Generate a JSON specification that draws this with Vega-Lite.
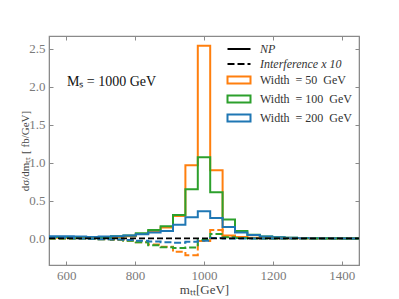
{
  "$schema": "https://vega.github.io/schema/vega-lite/v6.json",
  "width": 310,
  "height": 229,
  "autosize": "none",
  "padding": {"left": 49, "top": 36, "right": 40, "bottom": 34},
  "config": {
    "view": {"stroke": "#8a8a8a", "strokeWidth": 1.2},
    "font": "Liberation Serif",
    "axis": {
      "labelFont": "Liberation Serif",
      "titleFont": "Liberation Serif",
      "labelFontSize": 13,
      "labelColor": "#7a7a7a",
      "titleColor": "#444",
      "titleFontWeight": "normal",
      "titleFontSize": 13,
      "tickColor": "#8a8a8a",
      "domainColor": "#8a8a8a",
      "grid": false,
      "tickSize": -4,
      "labelPadding": 8
    },
    "legend": {
      "labelFont": "Liberation Serif",
      "labelFontSize": 12,
      "labelColor": "#333"
    }
  },
  "resolve": {"axis": {"x": "independent", "y": "independent"}},
  "layer": [
    {
      "data": {"values": [
        {"m":550,"w":"Width\u00a0\u00a0=\u00a050\u00a0\u00a0GeV","k":"NP","v":0.01},
        {"m":586,"w":"Width\u00a0\u00a0=\u00a050\u00a0\u00a0GeV","k":"NP","v":0.01},
        {"m":622,"w":"Width\u00a0\u00a0=\u00a050\u00a0\u00a0GeV","k":"NP","v":0.01},
        {"m":658,"w":"Width\u00a0\u00a0=\u00a050\u00a0\u00a0GeV","k":"NP","v":0.01},
        {"m":694,"w":"Width\u00a0\u00a0=\u00a050\u00a0\u00a0GeV","k":"NP","v":0.015},
        {"m":730,"w":"Width\u00a0\u00a0=\u00a050\u00a0\u00a0GeV","k":"NP","v":0.02},
        {"m":766,"w":"Width\u00a0\u00a0=\u00a050\u00a0\u00a0GeV","k":"NP","v":0.03},
        {"m":802,"w":"Width\u00a0\u00a0=\u00a050\u00a0\u00a0GeV","k":"NP","v":0.06},
        {"m":838,"w":"Width\u00a0\u00a0=\u00a050\u00a0\u00a0GeV","k":"NP","v":0.1},
        {"m":874,"w":"Width\u00a0\u00a0=\u00a050\u00a0\u00a0GeV","k":"NP","v":0.145},
        {"m":910,"w":"Width\u00a0\u00a0=\u00a050\u00a0\u00a0GeV","k":"NP","v":0.295},
        {"m":946,"w":"Width\u00a0\u00a0=\u00a050\u00a0\u00a0GeV","k":"NP","v":0.965},
        {"m":982,"w":"Width\u00a0\u00a0=\u00a050\u00a0\u00a0GeV","k":"NP","v":2.54},
        {"m":1018,"w":"Width\u00a0\u00a0=\u00a050\u00a0\u00a0GeV","k":"NP","v":0.9},
        {"m":1054,"w":"Width\u00a0\u00a0=\u00a050\u00a0\u00a0GeV","k":"NP","v":0.04},
        {"m":1090,"w":"Width\u00a0\u00a0=\u00a050\u00a0\u00a0GeV","k":"NP","v":0.02},
        {"m":1126,"w":"Width\u00a0\u00a0=\u00a050\u00a0\u00a0GeV","k":"NP","v":0.01},
        {"m":1162,"w":"Width\u00a0\u00a0=\u00a050\u00a0\u00a0GeV","k":"NP","v":0.005},
        {"m":1198,"w":"Width\u00a0\u00a0=\u00a050\u00a0\u00a0GeV","k":"NP","v":0.003},
        {"m":1234,"w":"Width\u00a0\u00a0=\u00a050\u00a0\u00a0GeV","k":"NP","v":0.002},
        {"m":1270,"w":"Width\u00a0\u00a0=\u00a050\u00a0\u00a0GeV","k":"NP","v":0.002},
        {"m":1306,"w":"Width\u00a0\u00a0=\u00a050\u00a0\u00a0GeV","k":"NP","v":0.001},
        {"m":1342,"w":"Width\u00a0\u00a0=\u00a050\u00a0\u00a0GeV","k":"NP","v":0.001},
        {"m":1378,"w":"Width\u00a0\u00a0=\u00a050\u00a0\u00a0GeV","k":"NP","v":0.001},
        {"m":1414,"w":"Width\u00a0\u00a0=\u00a050\u00a0\u00a0GeV","k":"NP","v":0.001},
        {"m":1450,"w":"Width\u00a0\u00a0=\u00a050\u00a0\u00a0GeV","k":"NP","v":0.001},

        {"m":550,"w":"Width\u00a0\u00a0=\u00a0100\u00a0\u00a0GeV","k":"NP","v":0.02},
        {"m":586,"w":"Width\u00a0\u00a0=\u00a0100\u00a0\u00a0GeV","k":"NP","v":0.02},
        {"m":622,"w":"Width\u00a0\u00a0=\u00a0100\u00a0\u00a0GeV","k":"NP","v":0.015},
        {"m":658,"w":"Width\u00a0\u00a0=\u00a0100\u00a0\u00a0GeV","k":"NP","v":0.015},
        {"m":694,"w":"Width\u00a0\u00a0=\u00a0100\u00a0\u00a0GeV","k":"NP","v":0.02},
        {"m":730,"w":"Width\u00a0\u00a0=\u00a0100\u00a0\u00a0GeV","k":"NP","v":0.03},
        {"m":766,"w":"Width\u00a0\u00a0=\u00a0100\u00a0\u00a0GeV","k":"NP","v":0.04},
        {"m":802,"w":"Width\u00a0\u00a0=\u00a0100\u00a0\u00a0GeV","k":"NP","v":0.07},
        {"m":838,"w":"Width\u00a0\u00a0=\u00a0100\u00a0\u00a0GeV","k":"NP","v":0.11},
        {"m":874,"w":"Width\u00a0\u00a0=\u00a0100\u00a0\u00a0GeV","k":"NP","v":0.16},
        {"m":910,"w":"Width\u00a0\u00a0=\u00a0100\u00a0\u00a0GeV","k":"NP","v":0.31},
        {"m":946,"w":"Width\u00a0\u00a0=\u00a0100\u00a0\u00a0GeV","k":"NP","v":0.65},
        {"m":982,"w":"Width\u00a0\u00a0=\u00a0100\u00a0\u00a0GeV","k":"NP","v":1.07},
        {"m":1018,"w":"Width\u00a0\u00a0=\u00a0100\u00a0\u00a0GeV","k":"NP","v":0.61},
        {"m":1054,"w":"Width\u00a0\u00a0=\u00a0100\u00a0\u00a0GeV","k":"NP","v":0.25},
        {"m":1090,"w":"Width\u00a0\u00a0=\u00a0100\u00a0\u00a0GeV","k":"NP","v":0.1},
        {"m":1126,"w":"Width\u00a0\u00a0=\u00a0100\u00a0\u00a0GeV","k":"NP","v":0.05},
        {"m":1162,"w":"Width\u00a0\u00a0=\u00a0100\u00a0\u00a0GeV","k":"NP","v":0.025},
        {"m":1198,"w":"Width\u00a0\u00a0=\u00a0100\u00a0\u00a0GeV","k":"NP","v":0.015},
        {"m":1234,"w":"Width\u00a0\u00a0=\u00a0100\u00a0\u00a0GeV","k":"NP","v":0.01},
        {"m":1270,"w":"Width\u00a0\u00a0=\u00a0100\u00a0\u00a0GeV","k":"NP","v":0.005},
        {"m":1306,"w":"Width\u00a0\u00a0=\u00a0100\u00a0\u00a0GeV","k":"NP","v":0.003},
        {"m":1342,"w":"Width\u00a0\u00a0=\u00a0100\u00a0\u00a0GeV","k":"NP","v":0.002},
        {"m":1378,"w":"Width\u00a0\u00a0=\u00a0100\u00a0\u00a0GeV","k":"NP","v":0.002},
        {"m":1414,"w":"Width\u00a0\u00a0=\u00a0100\u00a0\u00a0GeV","k":"NP","v":0.001},
        {"m":1450,"w":"Width\u00a0\u00a0=\u00a0100\u00a0\u00a0GeV","k":"NP","v":0.001},

        {"m":550,"w":"Width\u00a0\u00a0=\u00a0200\u00a0\u00a0GeV","k":"NP","v":0.03},
        {"m":586,"w":"Width\u00a0\u00a0=\u00a0200\u00a0\u00a0GeV","k":"NP","v":0.03},
        {"m":622,"w":"Width\u00a0\u00a0=\u00a0200\u00a0\u00a0GeV","k":"NP","v":0.025},
        {"m":658,"w":"Width\u00a0\u00a0=\u00a0200\u00a0\u00a0GeV","k":"NP","v":0.02},
        {"m":694,"w":"Width\u00a0\u00a0=\u00a0200\u00a0\u00a0GeV","k":"NP","v":0.025},
        {"m":730,"w":"Width\u00a0\u00a0=\u00a0200\u00a0\u00a0GeV","k":"NP","v":0.03},
        {"m":766,"w":"Width\u00a0\u00a0=\u00a0200\u00a0\u00a0GeV","k":"NP","v":0.04},
        {"m":802,"w":"Width\u00a0\u00a0=\u00a0200\u00a0\u00a0GeV","k":"NP","v":0.055},
        {"m":838,"w":"Width\u00a0\u00a0=\u00a0200\u00a0\u00a0GeV","k":"NP","v":0.08},
        {"m":874,"w":"Width\u00a0\u00a0=\u00a0200\u00a0\u00a0GeV","k":"NP","v":0.1},
        {"m":910,"w":"Width\u00a0\u00a0=\u00a0200\u00a0\u00a0GeV","k":"NP","v":0.18},
        {"m":946,"w":"Width\u00a0\u00a0=\u00a0200\u00a0\u00a0GeV","k":"NP","v":0.28},
        {"m":982,"w":"Width\u00a0\u00a0=\u00a0200\u00a0\u00a0GeV","k":"NP","v":0.36},
        {"m":1018,"w":"Width\u00a0\u00a0=\u00a0200\u00a0\u00a0GeV","k":"NP","v":0.27},
        {"m":1054,"w":"Width\u00a0\u00a0=\u00a0200\u00a0\u00a0GeV","k":"NP","v":0.15},
        {"m":1090,"w":"Width\u00a0\u00a0=\u00a0200\u00a0\u00a0GeV","k":"NP","v":0.08},
        {"m":1126,"w":"Width\u00a0\u00a0=\u00a0200\u00a0\u00a0GeV","k":"NP","v":0.045},
        {"m":1162,"w":"Width\u00a0\u00a0=\u00a0200\u00a0\u00a0GeV","k":"NP","v":0.025},
        {"m":1198,"w":"Width\u00a0\u00a0=\u00a0200\u00a0\u00a0GeV","k":"NP","v":0.015},
        {"m":1234,"w":"Width\u00a0\u00a0=\u00a0200\u00a0\u00a0GeV","k":"NP","v":0.01},
        {"m":1270,"w":"Width\u00a0\u00a0=\u00a0200\u00a0\u00a0GeV","k":"NP","v":0.005},
        {"m":1306,"w":"Width\u00a0\u00a0=\u00a0200\u00a0\u00a0GeV","k":"NP","v":0.003},
        {"m":1342,"w":"Width\u00a0\u00a0=\u00a0200\u00a0\u00a0GeV","k":"NP","v":0.002},
        {"m":1378,"w":"Width\u00a0\u00a0=\u00a0200\u00a0\u00a0GeV","k":"NP","v":0.002},
        {"m":1414,"w":"Width\u00a0\u00a0=\u00a0200\u00a0\u00a0GeV","k":"NP","v":0.001},
        {"m":1450,"w":"Width\u00a0\u00a0=\u00a0200\u00a0\u00a0GeV","k":"NP","v":0.001},

        {"m":550,"w":"Width\u00a0\u00a0=\u00a050\u00a0\u00a0GeV","k":"Interference x 10","v":0.0},
        {"m":586,"w":"Width\u00a0\u00a0=\u00a050\u00a0\u00a0GeV","k":"Interference x 10","v":0.0},
        {"m":622,"w":"Width\u00a0\u00a0=\u00a050\u00a0\u00a0GeV","k":"Interference x 10","v":0.0},
        {"m":658,"w":"Width\u00a0\u00a0=\u00a050\u00a0\u00a0GeV","k":"Interference x 10","v":-0.005},
        {"m":694,"w":"Width\u00a0\u00a0=\u00a050\u00a0\u00a0GeV","k":"Interference x 10","v":-0.01},
        {"m":730,"w":"Width\u00a0\u00a0=\u00a050\u00a0\u00a0GeV","k":"Interference x 10","v":-0.02},
        {"m":766,"w":"Width\u00a0\u00a0=\u00a050\u00a0\u00a0GeV","k":"Interference x 10","v":-0.03},
        {"m":802,"w":"Width\u00a0\u00a0=\u00a050\u00a0\u00a0GeV","k":"Interference x 10","v":-0.05},
        {"m":838,"w":"Width\u00a0\u00a0=\u00a050\u00a0\u00a0GeV","k":"Interference x 10","v":-0.08},
        {"m":874,"w":"Width\u00a0\u00a0=\u00a050\u00a0\u00a0GeV","k":"Interference x 10","v":-0.11},
        {"m":910,"w":"Width\u00a0\u00a0=\u00a050\u00a0\u00a0GeV","k":"Interference x 10","v":-0.175},
        {"m":946,"w":"Width\u00a0\u00a0=\u00a050\u00a0\u00a0GeV","k":"Interference x 10","v":-0.22},
        {"m":982,"w":"Width\u00a0\u00a0=\u00a050\u00a0\u00a0GeV","k":"Interference x 10","v":-0.035},
        {"m":1018,"w":"Width\u00a0\u00a0=\u00a050\u00a0\u00a0GeV","k":"Interference x 10","v":0.11},
        {"m":1054,"w":"Width\u00a0\u00a0=\u00a050\u00a0\u00a0GeV","k":"Interference x 10","v":0.03},
        {"m":1090,"w":"Width\u00a0\u00a0=\u00a050\u00a0\u00a0GeV","k":"Interference x 10","v":0.01},
        {"m":1126,"w":"Width\u00a0\u00a0=\u00a050\u00a0\u00a0GeV","k":"Interference x 10","v":0.005},
        {"m":1162,"w":"Width\u00a0\u00a0=\u00a050\u00a0\u00a0GeV","k":"Interference x 10","v":0.0},
        {"m":1450,"w":"Width\u00a0\u00a0=\u00a050\u00a0\u00a0GeV","k":"Interference x 10","v":0.0},

        {"m":550,"w":"Width\u00a0\u00a0=\u00a0100\u00a0\u00a0GeV","k":"Interference x 10","v":0.0},
        {"m":586,"w":"Width\u00a0\u00a0=\u00a0100\u00a0\u00a0GeV","k":"Interference x 10","v":0.0},
        {"m":622,"w":"Width\u00a0\u00a0=\u00a0100\u00a0\u00a0GeV","k":"Interference x 10","v":0.0},
        {"m":658,"w":"Width\u00a0\u00a0=\u00a0100\u00a0\u00a0GeV","k":"Interference x 10","v":-0.005},
        {"m":694,"w":"Width\u00a0\u00a0=\u00a0100\u00a0\u00a0GeV","k":"Interference x 10","v":-0.01},
        {"m":730,"w":"Width\u00a0\u00a0=\u00a0100\u00a0\u00a0GeV","k":"Interference x 10","v":-0.015},
        {"m":766,"w":"Width\u00a0\u00a0=\u00a0100\u00a0\u00a0GeV","k":"Interference x 10","v":-0.03},
        {"m":802,"w":"Width\u00a0\u00a0=\u00a0100\u00a0\u00a0GeV","k":"Interference x 10","v":-0.05},
        {"m":838,"w":"Width\u00a0\u00a0=\u00a0100\u00a0\u00a0GeV","k":"Interference x 10","v":-0.09},
        {"m":874,"w":"Width\u00a0\u00a0=\u00a0100\u00a0\u00a0GeV","k":"Interference x 10","v":-0.115},
        {"m":910,"w":"Width\u00a0\u00a0=\u00a0100\u00a0\u00a0GeV","k":"Interference x 10","v":-0.125},
        {"m":946,"w":"Width\u00a0\u00a0=\u00a0100\u00a0\u00a0GeV","k":"Interference x 10","v":-0.12},
        {"m":982,"w":"Width\u00a0\u00a0=\u00a0100\u00a0\u00a0GeV","k":"Interference x 10","v":-0.02},
        {"m":1018,"w":"Width\u00a0\u00a0=\u00a0100\u00a0\u00a0GeV","k":"Interference x 10","v":0.06},
        {"m":1054,"w":"Width\u00a0\u00a0=\u00a0100\u00a0\u00a0GeV","k":"Interference x 10","v":0.015},
        {"m":1090,"w":"Width\u00a0\u00a0=\u00a0100\u00a0\u00a0GeV","k":"Interference x 10","v":0.005},
        {"m":1126,"w":"Width\u00a0\u00a0=\u00a0100\u00a0\u00a0GeV","k":"Interference x 10","v":0.0},
        {"m":1450,"w":"Width\u00a0\u00a0=\u00a0100\u00a0\u00a0GeV","k":"Interference x 10","v":0.0},

        {"m":550,"w":"Width\u00a0\u00a0=\u00a0200\u00a0\u00a0GeV","k":"Interference x 10","v":0.01},
        {"m":586,"w":"Width\u00a0\u00a0=\u00a0200\u00a0\u00a0GeV","k":"Interference x 10","v":0.01},
        {"m":622,"w":"Width\u00a0\u00a0=\u00a0200\u00a0\u00a0GeV","k":"Interference x 10","v":0.0},
        {"m":658,"w":"Width\u00a0\u00a0=\u00a0200\u00a0\u00a0GeV","k":"Interference x 10","v":-0.005},
        {"m":694,"w":"Width\u00a0\u00a0=\u00a0200\u00a0\u00a0GeV","k":"Interference x 10","v":-0.01},
        {"m":730,"w":"Width\u00a0\u00a0=\u00a0200\u00a0\u00a0GeV","k":"Interference x 10","v":-0.015},
        {"m":766,"w":"Width\u00a0\u00a0=\u00a0200\u00a0\u00a0GeV","k":"Interference x 10","v":-0.02},
        {"m":802,"w":"Width\u00a0\u00a0=\u00a0200\u00a0\u00a0GeV","k":"Interference x 10","v":-0.03},
        {"m":838,"w":"Width\u00a0\u00a0=\u00a0200\u00a0\u00a0GeV","k":"Interference x 10","v":-0.04},
        {"m":874,"w":"Width\u00a0\u00a0=\u00a0200\u00a0\u00a0GeV","k":"Interference x 10","v":-0.05},
        {"m":910,"w":"Width\u00a0\u00a0=\u00a0200\u00a0\u00a0GeV","k":"Interference x 10","v":-0.055},
        {"m":946,"w":"Width\u00a0\u00a0=\u00a0200\u00a0\u00a0GeV","k":"Interference x 10","v":-0.045},
        {"m":982,"w":"Width\u00a0\u00a0=\u00a0200\u00a0\u00a0GeV","k":"Interference x 10","v":-0.03},
        {"m":1018,"w":"Width\u00a0\u00a0=\u00a0200\u00a0\u00a0GeV","k":"Interference x 10","v":0.005},
        {"m":1054,"w":"Width\u00a0\u00a0=\u00a0200\u00a0\u00a0GeV","k":"Interference x 10","v":0.0},
        {"m":1450,"w":"Width\u00a0\u00a0=\u00a0200\u00a0\u00a0GeV","k":"Interference x 10","v":0.0}
      ]},
      "mark": {"type": "line", "interpolate": "step-after", "strokeWidth": 2, "clip": true},
      "encoding": {
        "x": {"field": "m", "type": "quantitative",
              "scale": {"domain": [550, 1450], "nice": false, "zero": false},
              "axis": {"values": [600, 800, 1000, 1200, 1400], "format": "d", "title": "mₜₜ[GeV]", "titlePadding": 1}},
        "y": {"field": "v", "type": "quantitative",
              "scale": {"domain": [-0.35, 2.67], "nice": false, "zero": false},
              "axis": {"values": [0, 0.5, 1, 1.5, 2, 2.5], "format": ".1f", "title": "dσ/dmₜₜ [ fb/GeV]", "titleX": -24, "titleBaseline": "middle", "titleFontSize": 11}},
        "color": {"field": "w", "type": "nominal",
                  "scale": {"domain": ["Width\u00a0\u00a0=\u00a050\u00a0\u00a0GeV", "Width\u00a0\u00a0=\u00a0100\u00a0\u00a0GeV", "Width\u00a0\u00a0=\u00a0200\u00a0\u00a0GeV"], "range": ["#ff7f0e", "#2ca02c", "#1f77b4"]},
                  "legend": {"title": null, "orient": "none", "legendX": 184, "legendY": 38, "padding": 0,
                             "symbolType": "M-2.3,-0.7H2.3V0.7H-2.3Z", "symbolSize": 100, "symbolStrokeWidth": 2,
                             "symbolFillColor": "transparent", "labelOffset": 15, "rowPadding": 3}},
        "strokeDash": {"field": "k", "type": "nominal",
                       "scale": {"domain": ["NP", "Interference x 10"], "range": [[1, 0], [7, 3]]},
                       "legend": {"title": null, "orient": "none", "legendX": 184, "legendY": 7, "padding": 0,
                                  "symbolType": "M-2.3,0H2.3", "symbolSize": 100, "symbolStrokeWidth": 2,
                                  "symbolStrokeColor": "black", "labelOffset": 15, "rowPadding": 3, "labelFontStyle": "italic"}},
        "detail": {"field": "w"}
      }
    },
    {
      "data": {"values": [{}]},
      "mark": {"type": "rule", "color": "black", "strokeWidth": 1.8, "strokeDash": [6, 3]},
      "encoding": {
        "x": {"datum": 550, "axis": {"orient": "top", "labels": false, "title": null, "values": [600, 800, 1000, 1200, 1400]}},
        "x2": {"datum": 1450},
        "y": {"datum": 0, "axis": {"orient": "right", "labels": false, "title": null, "values": [0, 0.5, 1, 1.5, 2, 2.5]}}
      }
    },
    {
      "data": {"values": [{}]},
      "mark": {"type": "text", "font": "Liberation Serif", "fontSize": 14, "fontWeight": "normal", "align": "left", "baseline": "middle", "color": "#111"},
      "encoding": {
        "x": {"datum": 602, "axis": null},
        "y": {"datum": 2.06, "axis": null},
        "text": {"value": "Mₛ = 1000 GeV"}
      }
    }
  ]
}
